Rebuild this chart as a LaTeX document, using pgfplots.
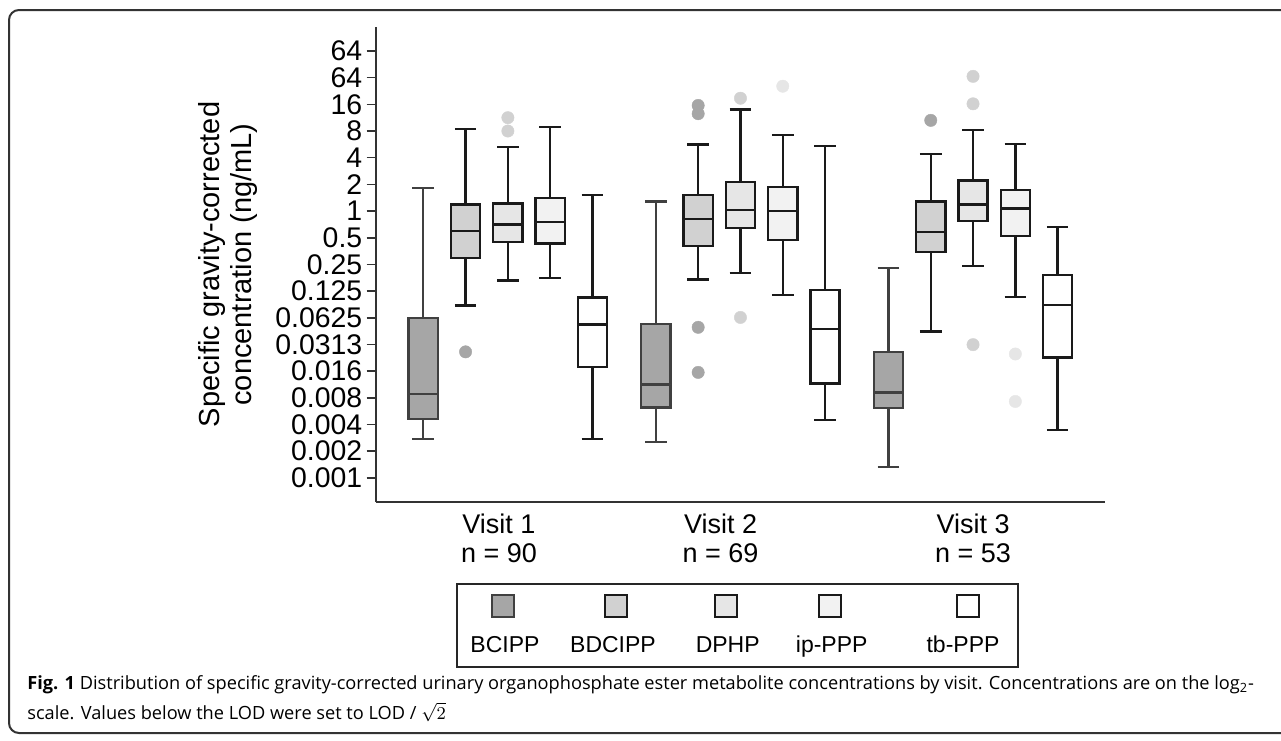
\documentclass[border=0pt]{standalone}
\usepackage{fontspec}
\setmainfont{Liberation Sans}
\newfontfamily\capfont{Open Sans}
\usepackage{pgfplots}
\pgfplotsset{compat=1.18}
\usepgfplotslibrary{statistics}

% fills of the five metabolites, and the colours of their outliers
\definecolor{fA}{HTML}{A6A6A6}
\definecolor{fB}{HTML}{D1D1D1}
\definecolor{fC}{HTML}{E6E6E6}
\definecolor{fD}{HTML}{F2F2F2}
\definecolor{fE}{HTML}{FFFFFF}
\definecolor{eA}{HTML}{404040}
\definecolor{eX}{HTML}{1A1A1A}

\pgfplotsset{
  bx/.style={line width=1.2pt, mark=*, mark size=3.1pt,
    boxplot/draw direction=y,
    boxplot/box extend=0.69, boxplot/whisker extend=0.51},
  sA/.style={bx, draw=eA, fill=fA, mark options={draw=fA, fill=fA, line width=0.2pt}},
  sB/.style={bx, draw=eX, fill=fB, mark options={draw=fA, fill=fA, line width=0.2pt}},
  sC/.style={bx, draw=eX, fill=fC, mark options={draw=fB, fill=fB, line width=0.2pt}},
  sD/.style={bx, draw=eX, fill=fD, mark options={draw=fC, fill=fC, line width=0.2pt}},
  sE/.style={bx, draw=eX, fill=fE, mark options={draw=fD, fill=fD, line width=0.2pt}},
}

\begin{document}
\begin{tikzpicture}
\useasboundingbox (0,0) rectangle (640.5pt,-370pt);
\begin{scope}[x=0.5pt,y=-0.5pt]
  % figure frame (open on the right)
  \draw[line width=1pt, draw=black!80, rounded corners=5pt]
    (1300,10) -- (9,10) -- (9,733) -- (1300,733);
  % legend
  \draw[line width=0.6pt, draw=black!85] (457,584) rectangle (1018,667);
  \foreach \cx/\lx/\col/\ed/\lab in {503/505/fA/eA/BCIPP, 615.7/613/fB/eX/BDCIPP,
      726/727.7/fC/eX/DPHP, 829.7/831.7/fD/eX/ip-PPP, 968.3/963/fE/eX/tb-PPP}{
    \draw[line width=0.9pt, draw=\ed, fill=\col] (\cx-11,595) rectangle (\cx+11,617);
    \node[anchor=base, font=\fontsize{11.5pt}{13pt}\selectfont, inner sep=0pt] at (\lx,652.7) {\lab};
  }
  % caption
  \node[anchor=base west, inner sep=0pt, font=\capfont\fontsize{9.1pt}{10pt}\selectfont] at (27,689)
    {\textbf{Fig. 1} Distribution of specific gravity-corrected urinary organophosphate ester metabolite concentrations by visit. Concentrations are on the log\textsubscript{2}-};
  \node[anchor=base west, inner sep=0pt, font=\capfont\fontsize{9.1pt}{10pt}\selectfont] at (27,719)
    {scale. Values below the LOD were set to LOD / $\sqrt{2}$};
\end{scope}

% y is log2 of the concentration (ng/mL); boxes at 1-5, 6.5-10.5, 12-16
\begin{axis}[
  at={(188pt,-251pt)}, anchor=south west,
  scale only axis, width=364.5pt, height=237.5pt,
  xmin=-0.118, xmax=17.12, ymin=-10.91, ymax=6.9,
  axis x line*=bottom, axis y line*=left,
  axis line style={-, line width=0.8pt, draw=black!80},
  clip=false,
  boxplot/draw direction=y,
  ytick={-10,-9,...,6},
  yticklabels={0.001,0.002,0.004,0.008,0.016,0.0313,0.0625,0.125,0.25,0.5,1,2,4,8,16,64,64},
  yticklabel style={font=\fontsize{14.2pt}{15pt}\selectfont, inner sep=2pt},
  y tick style={line width=0.8pt, draw=black!80},
  tick align=outside, major tick length=4.7pt,
  xtick={2.79,8.03,14},
  xticklabels={{Visit 1\\n = 90},{Visit 2\\n = 69},{Visit 3\\n = 53}},
  xticklabel style={align=center, inner sep=0pt, yshift=-1.3pt,
    font=\fontsize{13.5pt}{14.35pt}\selectfont},
  x tick style={draw=none},
  ylabel={Specific gravity-corrected\\concentration (ng/mL)},
  ylabel style={align=center, at={(axis description cs:-0.203,0.5)}, anchor=center,
    font=\fontsize{14.5pt}{15.75pt}\selectfont},
]
% Visit 1
\addplot[sA, boxplot prepared={draw position=1, lower whisker=-8.54, lower quartile=-7.79, median=-6.86, upper quartile=-4.02, upper whisker=0.86}] coordinates {};
\addplot[sB, boxplot prepared={draw position=2, lower whisker=-3.54, lower quartile=-1.75, median=-0.74, upper quartile=0.25, upper whisker=3.07}] table[row sep=\\, y index=0] {data\\ -5.28\\};
\addplot[sC, boxplot prepared={draw position=3, lower whisker=-2.61, lower quartile=-1.16, median=-0.51, upper quartile=0.29, upper whisker=2.4}] table[row sep=\\, y index=0] {data\\ 3.5\\ 3.0\\};
\addplot[sD, boxplot prepared={draw position=4, lower whisker=-2.52, lower quartile=-1.21, median=-0.42, upper quartile=0.49, upper whisker=3.14}] coordinates {};
\addplot[sE, boxplot prepared={draw position=5, lower whisker=-8.54, lower quartile=-5.85, median=-4.26, upper quartile=-3.24, upper whisker=0.59}] coordinates {};
% Visit 2
\addplot[sA, boxplot prepared={draw position=6.5, lower whisker=-8.67, lower quartile=-7.36, median=-6.5, upper quartile=-4.24, upper whisker=0.35}] coordinates {};
\addplot[sB, boxplot prepared={draw position=7.5, lower whisker=-2.56, lower quartile=-1.3, median=-0.3, upper quartile=0.6, upper whisker=2.49}] table[row sep=\\, y index=0] {data\\ 3.96\\ 3.65\\ -4.36\\ -6.05\\};
\addplot[sC, boxplot prepared={draw position=8.5, lower whisker=-2.32, lower quartile=-0.63, median=0.04, upper quartile=1.09, upper whisker=3.8}] table[row sep=\\, y index=0] {data\\ 4.23\\ -3.99\\};
\addplot[sD, boxplot prepared={draw position=9.5, lower whisker=-3.14, lower quartile=-1.09, median=0.01, upper quartile=0.9, upper whisker=2.86}] table[row sep=\\, y index=0] {data\\ 4.68\\};
\addplot[sE, boxplot prepared={draw position=10.5, lower whisker=-7.84, lower quartile=-6.46, median=-4.42, upper quartile=-2.95, upper whisker=2.44}] coordinates {};
% Visit 3
\addplot[sA, boxplot prepared={draw position=12, lower whisker=-9.6, lower quartile=-7.38, median=-6.8, upper quartile=-5.28, upper whisker=-2.14}] coordinates {};
\addplot[sB, boxplot prepared={draw position=13, lower whisker=-4.51, lower quartile=-1.54, median=-0.78, upper quartile=0.36, upper whisker=2.14}] table[row sep=\\, y index=0] {data\\ 3.4\\};
\addplot[sC, boxplot prepared={draw position=14, lower whisker=-2.06, lower quartile=-0.37, median=0.24, upper quartile=1.14, upper whisker=3.03}] table[row sep=\\, y index=0] {data\\ 5.05\\ 4.02\\ -5.01\\};
\addplot[sD, boxplot prepared={draw position=15, lower whisker=-3.22, lower quartile=-0.93, median=0.1, upper quartile=0.78, upper whisker=2.51}] table[row sep=\\, y index=0] {data\\ -5.36\\ -7.14\\};
\addplot[sE, boxplot prepared={draw position=16, lower whisker=-8.21, lower quartile=-5.49, median=-3.52, upper quartile=-2.39, upper whisker=-0.59}] coordinates {};
\end{axis}
\end{tikzpicture}
\end{document}
